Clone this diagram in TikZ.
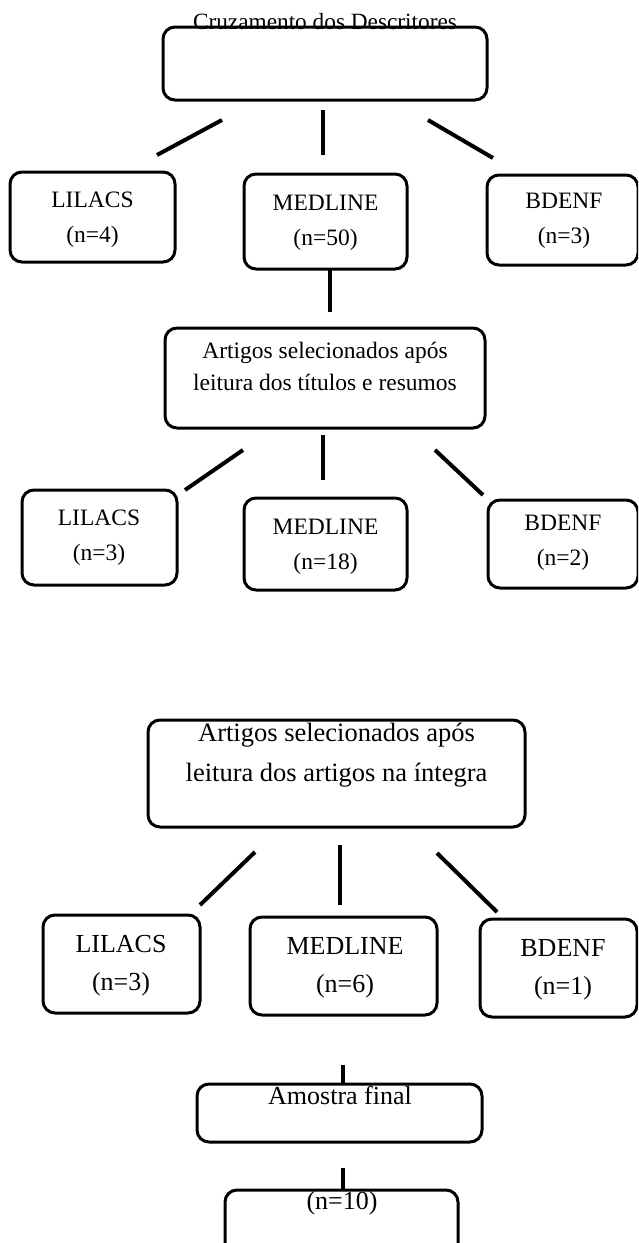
\documentclass[tikz,border=0pt]{standalone}
\usepackage{fontspec}
\setmainfont{Liberation Serif}
\usetikzlibrary{arrows}

\begin{document}
\begin{tikzpicture}[x = 1pt, y = -1pt]
\tikzstyle{BoxStyle}=[
shape = rectangle,
rounded corners = 12pt,
line width = 3pt,
inner sep = 0pt,
draw]
\tikzstyle{TextStyle}=[
align = center,
inner sep = 0pt,
font = \fontsize{23.5}{35}\selectfont]
\tikzstyle{BigTextStyle}=[
align = center,
inner sep = 0pt,
font = \fontsize{26.5}{40}\selectfont]
\tikzstyle{EdgeStyle}=[line width = 4pt]
\useasboundingbox (0,0) rectangle (638,1243);
\clip (0,0) rectangle (638,1243);
\node[BoxStyle, minimum width = 324pt, minimum height = 73pt] (b1) at (325,63.5) {};
\node[BoxStyle, minimum width = 165pt, minimum height = 90pt] (b2) at (92.5,217) {};
\node[BoxStyle, minimum width = 163pt, minimum height = 95pt] (b3) at (325.5,221.5) {};
\node[BoxStyle, minimum width = 151pt, minimum height = 90pt] (b4) at (562.5,220) {};
\node[BoxStyle, minimum width = 320pt, minimum height = 100pt] (b5) at (325,378) {};
\node[BoxStyle, minimum width = 155pt, minimum height = 95pt] (b6) at (99.5,537.5) {};
\node[BoxStyle, minimum width = 163pt, minimum height = 92pt] (b7) at (325.5,544) {};
\node[BoxStyle, minimum width = 150pt, minimum height = 88pt] (b8) at (563,544) {};
\node[BoxStyle, minimum width = 377pt, minimum height = 107pt] (b9) at (336.5,773.5) {};
\node[BoxStyle, minimum width = 157pt, minimum height = 98pt] (b10) at (121.5,964) {};
\node[BoxStyle, minimum width = 187pt, minimum height = 98pt] (b11) at (343.5,966) {};
\node[BoxStyle, minimum width = 157pt, minimum height = 98pt] (b12) at (558.5,968) {};
\node[BoxStyle, minimum width = 285pt, minimum height = 58pt] (b13) at (339.5,1113) {};
\node[BoxStyle, minimum width = 233pt, minimum height = 70pt] (b14) at (341.5,1225) {};
\node[TextStyle, font = \fontsize{23.3}{26}\selectfont] (t1) at (325,22) {Cruzamento dos Descritores};
\node[TextStyle] (t2) at (92.5,219.5) {LILACS\\(n=4)};
\node[TextStyle] (t3) at (325.5,223) {MEDLINE\\(n=50)};
\node[TextStyle] (t4) at (564,221) {BDENF\\(n=3)};
\node[TextStyle, font = \fontsize{23.5}{32}\selectfont] (t5) at (325,366) {Artigos selecionados após\\leitura dos títulos e resumos};
\node[TextStyle] (t6) at (99,537.5) {LILACS\\(n=3)};
\node[TextStyle] (t7) at (325.5,547) {MEDLINE\\(n=18)};
\node[TextStyle] (t8) at (563,543) {BDENF\\(n=2)};
\node[BigTextStyle] (t9) at (336.5,755) {Artigos selecionados após\\leitura dos artigos na íntegra};
\node[TextStyle, font = \fontsize{26}{38}\selectfont] (t10) at (121,966) {LILACS\\(n=3)};
\node[TextStyle, font = \fontsize{26}{38}\selectfont] (t11) at (345,968) {MEDLINE\\(n=6)};
\node[TextStyle, font = \fontsize{26}{38}\selectfont] (t12) at (563,970) {BDENF\\(n=1)};
\node[BigTextStyle, font = \fontsize{26}{30}\selectfont] (t13) at (340,1095) {Amostra final};
\node[BigTextStyle, font = \fontsize{26}{30}\selectfont] (t14) at (342,1203) {(n=10)};
\coordinate (c1) at (222,120);
\coordinate (c2) at (157,155);
\coordinate (c3) at (323,110);
\coordinate (c4) at (323,155);
\coordinate (c5) at (428,120);
\coordinate (c6) at (493,158);
\coordinate (c7) at (330,270);
\coordinate (c8) at (330,312);
\coordinate (c9) at (243,450);
\coordinate (c10) at (185,490);
\coordinate (c11) at (323,435);
\coordinate (c12) at (323,480);
\coordinate (c13) at (435,450);
\coordinate (c14) at (483,495);
\coordinate (c15) at (255,852);
\coordinate (c16) at (200,905);
\coordinate (c17) at (340,845);
\coordinate (c18) at (340,905);
\coordinate (c19) at (437,853);
\coordinate (c20) at (497,912);
\coordinate (c21) at (343,1065);
\coordinate (c22) at (343,1084);
\coordinate (c23) at (343,1168);
\coordinate (c24) at (343,1190);
\draw[EdgeStyle] (c1) -- (c2);
\draw[EdgeStyle] (c3) -- (c4);
\draw[EdgeStyle] (c5) -- (c6);
\draw[EdgeStyle] (c7) -- (c8);
\draw[EdgeStyle] (c9) -- (c10);
\draw[EdgeStyle] (c11) -- (c12);
\draw[EdgeStyle] (c13) -- (c14);
\draw[EdgeStyle] (c15) -- (c16);
\draw[EdgeStyle] (c17) -- (c18);
\draw[EdgeStyle] (c19) -- (c20);
\draw[EdgeStyle] (c21) -- (c22);
\draw[EdgeStyle] (c23) -- (c24);
\end{tikzpicture}
\end{document}
